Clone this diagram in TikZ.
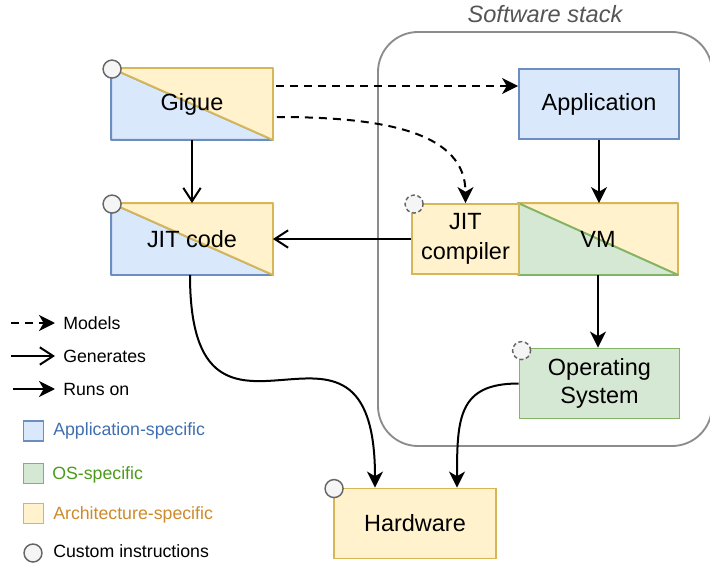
\documentclass[tikz,border=0pt]{standalone}
\usepackage{xcolor}
\usepackage{fontspec}
\setmainfont{Liberation Sans}
\usepackage{tikz}
\usetikzlibrary{arrows.meta,backgrounds}

\definecolor{appfill}{HTML}{DAE8FC}
\definecolor{appline}{HTML}{6C8EBF}
\definecolor{osfill}{HTML}{D5E8D4}
\definecolor{osline}{HTML}{82B366}
\definecolor{archfill}{HTML}{FFF2CC}
\definecolor{archline}{HTML}{D6B656}
\definecolor{markfill}{HTML}{F5F5F5}
\definecolor{markline}{HTML}{666666}
\definecolor{apptext}{HTML}{3F6EB0}
\definecolor{ostext}{HTML}{4D9A1A}
\definecolor{archtext}{HTML}{CC8A2A}
\definecolor{stackline}{HTML}{8C8C8C}
\definecolor{stacktext}{HTML}{555555}

\begin{document}
\begin{tikzpicture}[x=0.75pt,y=0.75pt,yscale=-1,xscale=1,
    box/.style={minimum width=120pt, minimum height=52.5pt, inner sep=0pt, align=center,
        font=\fontsize{17.6}{22}\selectfont, line width=1.4pt},
    appbox/.style={box, draw=appline, fill=appfill},
    osbox/.style={box, draw=osline, fill=osfill},
    archbox/.style={box, draw=archline, fill=archfill},
    halfbox/.style={line width=1.4pt, line join=round},
    custommark/.style={circle, draw=markline, fill=markfill, line width=1.1pt, minimum size=13.5pt, inner sep=0pt},
    runs/.style={-{Stealth[length=12pt,width=12pt,inset=3.5pt]}, line width=1.5pt},
    gens/.style={-{Straight Barb[length=10pt,width=13pt]}, line width=1.5pt},
    models/.style={runs, dash pattern=on 6pt off 4.5pt},
    legend/.style={anchor=base west, inner sep=0pt, font=\fontsize{13.3}{16}\selectfont},
    swatch/.style={minimum size=15pt, inner sep=0pt, line width=1.4pt}
]
\useasboundingbox (0,0) rectangle (710,563);

\draw[stackline, line width=1.4pt, rounded corners=30pt] (378,32) rectangle (712,446);
\node[font=\fontsize{17.7}{20}\selectfont\itshape, text=stacktext] (stacktitle) at (545,14) {Software stack};

\node[box] (gigue) at (192,104) {Gigue};
\node[box] (jitcode) at (192,239) {JIT code};
\node[appbox] (app) at (599,104) {Application};
\node[archbox, minimum width=80.25pt] (jitc) at (465.5,239) {JIT\\compiler};
\node[box, minimum width=118.5pt] (vm) at (598,239) {VM};
\node[osbox, font=\fontsize{17.6}{21}\selectfont] (os) at (599.5,383.5) {Operating\\System};
\node[archbox, minimum width=121.5pt] (hw) at (415,523.5) {Hardware};

\begin{scope}[on background layer]
    \filldraw[halfbox, draw=appline, fill=appfill] (gigue.north west) -- (gigue.south west) -- (gigue.south east) -- cycle;
    \filldraw[halfbox, draw=archline, fill=archfill] (gigue.north west) -- (gigue.north east) -- (gigue.south east) -- cycle;
    \filldraw[halfbox, draw=appline, fill=appfill] (jitcode.north west) -- (jitcode.south west) -- (jitcode.south east) -- cycle;
    \filldraw[halfbox, draw=archline, fill=archfill] (jitcode.north west) -- (jitcode.north east) -- (jitcode.south east) -- cycle;
    \filldraw[halfbox, draw=archline, fill=archfill] (vm.north west) -- (vm.north east) -- (vm.south east) -- cycle;
    \filldraw[halfbox, draw=osline, fill=osfill] (vm.north west) -- (vm.south west) -- (vm.south east) -- cycle;
\end{scope}

\node[custommark] (giguemark) at ([shift={(1,1)}]gigue.north west) {};
\node[custommark] (jitcodemark) at ([shift={(1,1)}]jitcode.north west) {};
\node[custommark, dash pattern=on 3pt off 2pt] (jitcmark) at ([shift={(3,1)}]jitc.north west) {};
\node[custommark, dash pattern=on 3pt off 2pt] (osmark) at ([shift={(3,3)}]os.north west) {};
\node[custommark] (hwmark) at ([shift={(1,1)}]hw.north west) {};

\draw[models] ([shift={(3,-18)}]gigue.east) -- ([shift={(0,-18)}]app.west);
\draw[models] ([shift={(4,13)}]gigue.east) .. controls +(110,0) and +(0,-70) .. (jitc.north);
\draw[gens] (gigue.south) -- (jitcode.north);
\draw[gens] (jitc.west) -- (jitcode.east);
\draw[runs] (app.south) -- (app.south |- vm.north);
\draw[runs] (vm.south) -- (vm.south |- os.north);
\draw[runs] ([shift={(-2,0)}]jitcode.south) .. controls +(0,222) and +(0,-222) .. ([shift={(-40,0)}]hw.north);
\draw[runs] (os.west) .. controls +(-60,0) and +(0,-70) .. ([shift={(42,0)}]hw.north);

\coordinate (modelsfrom) at (11,323);
\coordinate (modelsto) at (55,323);
\coordinate (gensfrom) at (11,356);
\coordinate (gensto) at (55,356);
\coordinate (runsfrom) at (13,389);
\coordinate (runsto) at (55,389);
\draw[models] (modelsfrom) -- (modelsto);
\draw[gens] (gensfrom) -- (gensto);
\draw[runs] (runsfrom) -- (runsto);
\node[legend] (modelslabel) at (63,329) {Models};
\node[legend] (genslabel) at (63,362) {Generates};
\node[legend] (runslabel) at (63,395) {Runs on};

\node[swatch, draw=appline, fill=appfill] (appswatch) at (33.5,431) {};
\node[swatch, draw=osline, fill=osfill] (osswatch) at (33.5,473.5) {};
\node[swatch, draw=archline, fill=archfill] (archswatch) at (33.5,513.5) {};
\node[custommark] (markswatch) at (33,553) {};
\node[legend, text=apptext] (applabel) at (53,435) {Application-specific};
\node[legend, text=ostext] (oslabel) at (52,479) {OS-specific};
\node[legend, text=archtext] (archlabel) at (53,519) {Architecture-specific};
\node[legend] (marklabel) at (53,557) {Custom instructions};
\end{tikzpicture}
\end{document}
